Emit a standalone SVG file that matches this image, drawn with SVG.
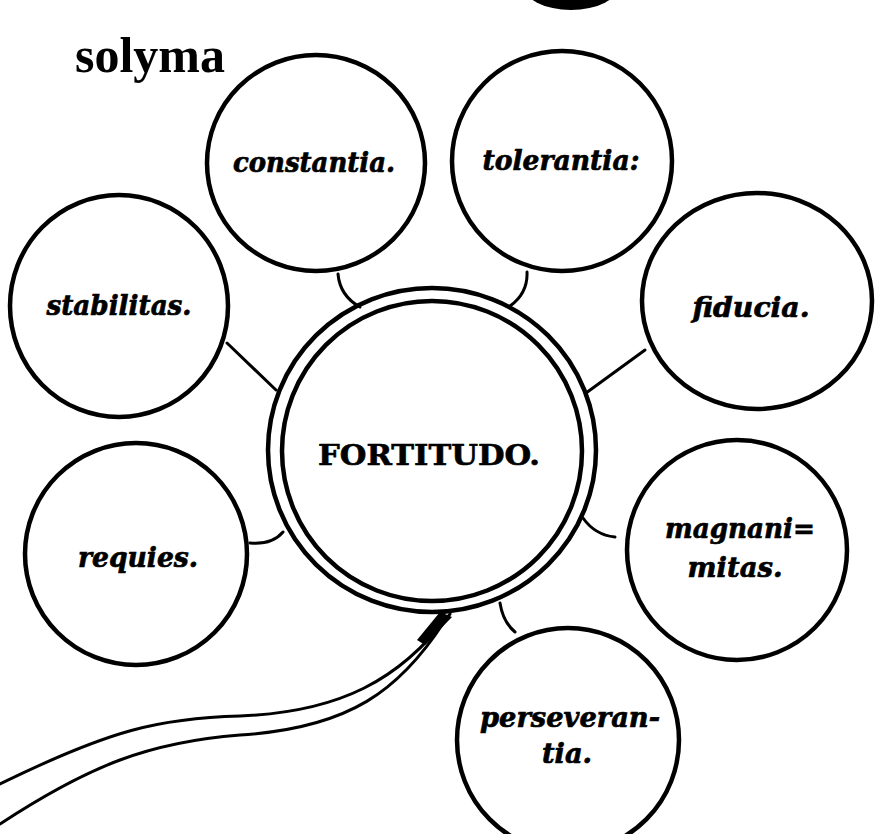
<svg xmlns="http://www.w3.org/2000/svg" width="876" height="834" viewBox="0 0 876 834">
<style>
.c{fill:none;stroke:#000;stroke-width:4.5}
.l{font-family:"DejaVu Serif","Liberation Serif",serif;font-weight:bold;font-style:italic;font-size:28px;fill:#000;stroke:#000;stroke-width:0.7;text-anchor:middle}
.k{fill:none;stroke:#000;stroke-width:3;stroke-linecap:round}
</style>
<rect width="876" height="834" fill="#fff"/>
<ellipse cx="571" cy="-15" rx="48" ry="25" fill="#000"/>
<text x="75" y="72" font-family="Liberation Serif, serif" font-weight="bold" font-size="50" textLength="150" lengthAdjust="spacingAndGlyphs">solyma</text>
<g id="connectors">
<path class="k" d="M338,274 Q340,296 360,307"/>
<path class="k" d="M527,272 Q528,293 510,306"/>
<path class="k" d="M227,343 L276,390"/>
<path class="k" d="M645,350 L586,393" stroke-width="4.5"/>
<path class="k" d="M250,543 Q272,545 283,532"/>
<path class="k" d="M615,537 Q595,535 583,518"/>
<path class="k" d="M500,603 Q503,622 515,632" stroke-width="4"/>
<path class="k" d="M450,614 C400,680 340,712 240,716 C160,718 110,730 0,784"/>
<path class="k" d="M444,622 C400,690 350,728 240,735 C150,742 90,765 0,824"/>
<path d="M440,612 L452,617 L425,645 L417,640 Z" fill="#000"/>
</g>
<g id="fortitudo">
<ellipse class="c" cx="432" cy="450" rx="164" ry="162" stroke-width="3"/>
<ellipse class="c" cx="432" cy="451" rx="150" ry="150" stroke-width="5"/>
<text x="429" y="465" font-family="DejaVu Serif, serif" font-weight="bold" font-size="28" text-anchor="middle" textLength="222" lengthAdjust="spacingAndGlyphs" stroke="#000" stroke-width="0.6">FORTITUDO.</text>
</g>
<g id="constantia">
<ellipse class="c" cx="316" cy="163" rx="109" ry="108"/>
<text class="l" x="314" y="172" textLength="162" lengthAdjust="spacingAndGlyphs">constantia.</text>
</g>
<g id="tolerantia">
<ellipse class="c" cx="562" cy="161" rx="110" ry="110"/>
<text class="l" x="561" y="170" textLength="157" lengthAdjust="spacingAndGlyphs">tolerantia:</text>
</g>
<g id="stabilitas">
<ellipse class="c" cx="119" cy="306" rx="109" ry="111"/>
<text class="l" x="119" y="315" textLength="145" lengthAdjust="spacingAndGlyphs">stabilitas.</text>
</g>
<g id="fiducia">
<ellipse class="c" cx="757" cy="301" rx="115" ry="108"/>
<text class="l" x="751" y="317" textLength="117" lengthAdjust="spacingAndGlyphs">fiducia.</text>
</g>
<g id="requies">
<ellipse class="c" cx="136" cy="554" rx="111" ry="111"/>
<text class="l" x="138" y="567" textLength="120" lengthAdjust="spacingAndGlyphs">requies.</text>
</g>
<g id="magnanimitas">
<ellipse class="c" cx="737" cy="550" rx="110" ry="110"/>
<text class="l" x="740" y="538" textLength="150" lengthAdjust="spacingAndGlyphs">magnani=</text>
<text class="l" x="735" y="577" textLength="95" lengthAdjust="spacingAndGlyphs">mitas.</text>
</g>
<g id="perseverantia">
<ellipse class="c" cx="568" cy="740" rx="111" ry="112"/>
<text class="l" x="570" y="727" textLength="180" lengthAdjust="spacingAndGlyphs">perseveran-</text>
<text class="l" x="567" y="763" textLength="50" lengthAdjust="spacingAndGlyphs">tia.</text>
</g>
</svg>
